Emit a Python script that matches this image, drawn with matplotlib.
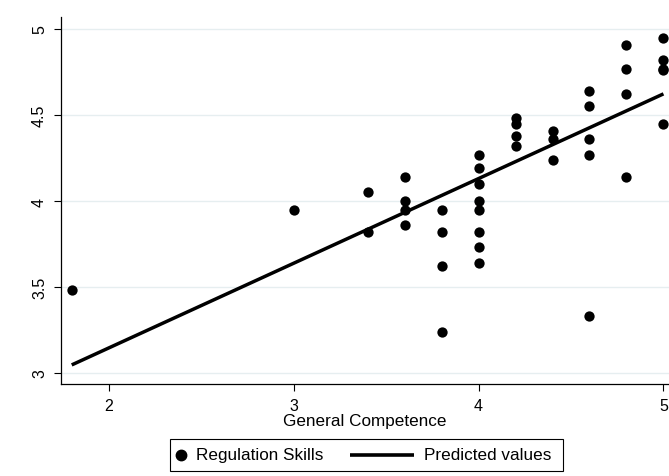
import numpy as np
import matplotlib
matplotlib.use("Agg")
import matplotlib.pyplot as plt
from matplotlib.lines import Line2D
from matplotlib.patches import Rectangle

plt.rcParams['font.family'] = ['Liberation Sans', 'DejaVu Sans']

# Data
competence = [1.8, 3.0, 3.4, 3.4,
              3.6, 3.6, 3.6, 3.6,
              3.8, 3.8, 3.8, 3.8,
              4.0, 4.0, 4.0, 4.0, 4.0, 4.0, 4.0, 4.0,
              4.2, 4.2, 4.2, 4.2,
              4.4, 4.4, 4.4,
              4.6, 4.6, 4.6, 4.6, 4.6,
              4.8, 4.8, 4.8, 4.8,
              5.0, 5.0, 5.0, 5.0, 5.0]
regulation = [3.48, 3.95, 4.05, 3.82,
              4.14, 4.00, 3.95, 3.86,
              3.95, 3.82, 3.62, 3.24,
              4.27, 4.19, 4.10, 4.00, 3.95, 3.82, 3.73, 3.64,
              4.48, 4.45, 4.38, 4.32,
              4.41, 4.36, 4.24,
              4.64, 4.55, 4.36, 4.27, 3.33,
              4.91, 4.77, 4.62, 4.14,
              4.95, 4.82, 4.77, 4.76, 4.45]
# Predicted values (fitted line) read at its two ends
pred_x = [1.8, 5.0]
pred_y = [3.047, 4.623]
xticks = [2, 3, 4, 5]
yticks = [3, 3.5, 4, 4.5, 5]
ytick_labels = ['3', '3.5', '4', '4.5', '5']
legend_labels = ['Regulation Skills', 'Predicted values']

W, H = 669, 477
fig = plt.figure(figsize=(W/100, H/100), dpi=100)
ax = fig.add_axes([61/W, 1-385/H, 1-61/W, (385-18)/H])

for t in yticks:
    ax.axhline(t, color='#e6eef0', lw=1.0, zorder=0)

ax.scatter(competence, regulation, s=55, color='black', zorder=3, clip_on=False, linewidths=0)
ax.plot(pred_x, pred_y, color='black', lw=2.5, zorder=4, solid_capstyle='butt')

ax.set_xlim(1.742, 5.03)
ax.set_ylim(2.936, 5.07)
ax.set_xticks(xticks)
ax.set_xticklabels([str(t) for t in xticks])
ax.set_yticks(yticks)
ax.set_yticklabels(ytick_labels, rotation=90, va='center')
ax.tick_params(axis='both', direction='out', length=5, width=0.8, labelsize=11.5, colors='black')
ax.tick_params(axis='x', pad=5)
ax.tick_params(axis='y', pad=5)
for s in ['top', 'right']:
    ax.spines[s].set_visible(False)
for s in ['left', 'bottom']:
    ax.spines[s].set_linewidth(0.9)

ax.set_xlabel('General Competence', fontsize=12.3, labelpad=0)

# legend drawn as a boxed key below the plot
def fx(px):
    return px / W

def fy(py):
    return 1 - py / H

fig.patches.append(Rectangle((fx(170), fy(472)), fx(563) - fx(170), fy(440) - fy(472),
                             transform=fig.transFigure, fill=False, edgecolor='black', lw=0.8))
fig.lines.append(Line2D([fx(181)], [fy(456)], marker='o', markersize=7.5, color='black',
                        linestyle='none', transform=fig.transFigure))
fig.text(fx(196), fy(456), legend_labels[0], fontsize=12.3, va='center', ha='left')
fig.lines.append(Line2D([fx(350), fx(414)], [fy(456), fy(456)], color='black', lw=2.6,
                        solid_capstyle='butt', transform=fig.transFigure))
fig.text(fx(424), fy(456), legend_labels[1], fontsize=12.3, va='center', ha='left')

fig.savefig('out.png', dpi=100)
